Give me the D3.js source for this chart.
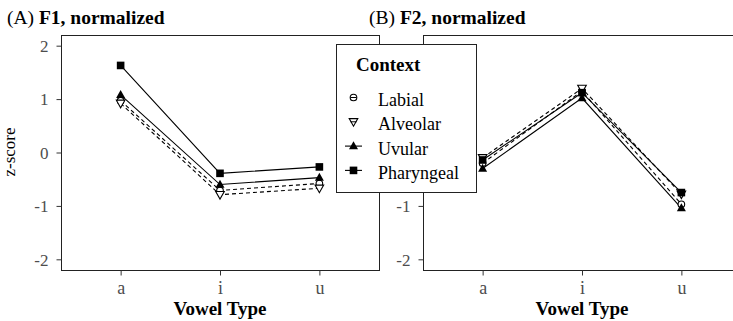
<!DOCTYPE html>
<html>
<head>
<meta charset="utf-8">
<script src="https://cdn.jsdelivr.net/npm/d3@7"></script>
<style>
  html, body { margin: 0; padding: 0; background: #fff; }
  svg { display: block; font-family: "Liberation Serif", "Times New Roman", serif; }
</style>
</head>
<body>
<svg id="chart" width="733" height="321"></svg>
<script>
// Vowel categories and z-scored formant means by consonant context
const vowels = ["a", "i", "u"];
const contexts = ["Labial", "Alveolar", "Uvular", "Pharyngeal"];
const yTicks = [-2, -1, 0, 1, 2];

const f1Labial     = [0.97, -0.71, -0.58];
const f1Alveolar   = [0.92, -0.79, -0.67];
const f1Uvular     = [1.08, -0.60, -0.47];
const f1Pharyngeal = [1.63, -0.39, -0.27];

const f2Labial     = [-0.20, 1.15, -0.97];
const f2Alveolar   = [-0.10, 1.20, -0.78];
const f2Uvular     = [-0.30, 1.02, -1.04];
const f2Pharyngeal = [-0.14, 1.12, -0.75];

const panels = [
  { tag: "(A) ", name: "F1, normalized", left: 61,  series: [f1Labial, f1Alveolar, f1Uvular, f1Pharyngeal] },
  { tag: "(B) ", name: "F2, normalized", left: 423, series: [f2Labial, f2Alveolar, f2Uvular, f2Pharyngeal] }
];

const styles = {
  Labial:     { dash: "4,3", shape: "circle" },
  Alveolar:   { dash: "4,3", shape: "triangleDown" },
  Uvular:     { dash: null,  shape: "triangle" },
  Pharyngeal: { dash: null,  shape: "square" }
};

const svg = d3.select("#chart");
const panelW = 318, plotTop = 35, plotBottom = 270;
const legendBox = { x: 336.5, y: 44.5, w: 140, h: 148 };
const y = d3.scaleLinear().domain([-2.2, 2.2]).range([plotBottom, plotTop]);

function drawMarker(g, shape, cx, cy) {
  if (shape === "circle") {
    g.append("circle").attr("cx", cx).attr("cy", cy).attr("r", 3.3)
      .attr("fill", "#fff").attr("stroke", "#000").attr("stroke-width", 1.1);
  } else if (shape === "square") {
    g.append("rect").attr("x", cx - 3.8).attr("y", cy - 3.8).attr("width", 7.6).attr("height", 7.6)
      .attr("fill", "#000");
  } else if (shape === "triangle") {
    g.append("path").attr("d", `M${cx},${cy - 4.8}L${cx + 4.5},${cy + 3.2}L${cx - 4.5},${cy + 3.2}Z`)
      .attr("fill", "#000");
  } else if (shape === "triangleDown") {
    g.append("path").attr("d", `M${cx - 4.3},${cy - 3.2}L${cx + 4.3},${cy - 3.2}L${cx},${cy + 4.4}Z`)
      .attr("fill", "#fff").attr("stroke", "#000").attr("stroke-width", 1.1);
  }
}

panels.forEach((p, idx) => {
  const x = d3.scalePoint().domain(vowels).range([p.left, p.left + panelW]).padding(0.6);
  const g = svg.append("g");

  // panel frame
  g.append("rect").attr("x", p.left + 0.5).attr("y", plotTop + 0.5)
    .attr("width", panelW).attr("height", plotBottom - plotTop)
    .attr("fill", "none").attr("stroke", "#222").attr("stroke-width", 1);

  // y axis (plain hyphen for negatives)
  const ya = g.append("g").attr("transform", `translate(${p.left + 0.5},0)`)
    .call(d3.axisLeft(y).tickValues(yTicks).tickFormat(d => String(d)).tickSize(5).tickPadding(8));
  ya.select(".domain").remove();
  ya.selectAll("line").attr("stroke", "#333");
  ya.selectAll("text").attr("fill", "#4d4d4d").style("font-size", "17px")
    .style("font-family", "Liberation Serif, serif").attr("dy", "0.34em");
  // the legend sits over the second panel's upper y labels
  if (idx === 1) {
    ya.selectAll(".tick").filter(d => y(d) < legendBox.y + legendBox.h + 4).remove();
  }

  // x axis
  const xa = g.append("g").attr("transform", `translate(0,${plotBottom + 0.5})`)
    .call(d3.axisBottom(x).tickSize(5).tickPadding(6));
  xa.select(".domain").remove();
  xa.selectAll("line").attr("stroke", "#333");
  xa.selectAll("text").attr("fill", "#4d4d4d").style("font-size", "18px")
    .style("font-family", "Liberation Serif, serif");

  // axis title
  g.append("text").attr("x", x("i")).attr("y", 315).attr("text-anchor", "middle")
    .style("font-size", "19px").style("font-weight", "bold").text("Vowel Type");

  // panel title
  const t = g.append("text").attr("x", p.left - 54).attr("y", 24).style("font-size", "19.5px");
  t.append("tspan").text(p.tag);
  t.append("tspan").style("font-weight", "bold").text(p.name);

  // series lines
  const line = d3.line().x((d, i) => x(vowels[i])).y(d => y(d));
  contexts.forEach((c, k) => {
    const s = styles[c];
    g.append("path").datum(p.series[k]).attr("d", line)
      .attr("fill", "none").attr("stroke", "#000").attr("stroke-width", 1.1)
      .attr("stroke-dasharray", s.dash);
  });
  contexts.forEach((c, k) => {
    p.series[k].forEach((v, i) => drawMarker(g, styles[c].shape, x(vowels[i]), y(v)));
  });
});

// y axis title for the left panel
svg.append("text").attr("transform", "translate(15,152) rotate(-90)")
  .attr("text-anchor", "middle").style("font-size", "17px").text("z-score");

// legend
const lg = svg.append("g");
lg.append("rect").attr("x", legendBox.x).attr("y", legendBox.y).attr("width", legendBox.w).attr("height", legendBox.h)
  .attr("fill", "#fff").attr("stroke", "#222").attr("stroke-width", 1);
lg.append("text").attr("x", 356).attr("y", 71).style("font-size", "19px").style("font-weight", "bold")
  .text("Context");
contexts.forEach((c, k) => {
  const cy = 97.5 + k * 24.3;
  const s = styles[c];
  if (!s.dash) {
    lg.append("line").attr("x1", 345).attr("x2", 362).attr("y1", cy).attr("y2", cy)
      .attr("stroke", "#000").attr("stroke-width", 1.1);
  }
  drawMarker(lg, s.shape, 353.5, cy);
  if (s.dash) {
    lg.append("line").attr("x1", 350.5).attr("x2", 356.5).attr("y1", cy).attr("y2", cy)
      .attr("stroke", "#000").attr("stroke-width", 1);
  }
  lg.append("text").attr("x", 378).attr("y", cy + 8.5).style("font-size", "18px").text(c);
});
</script>
</body>
</html>
